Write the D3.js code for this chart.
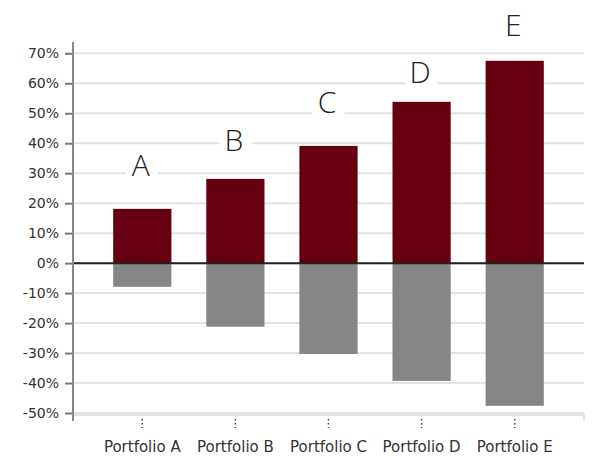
<!DOCTYPE html>
<html>
<head>
<meta charset="utf-8">
<script src="https://cdn.jsdelivr.net/npm/d3@7"></script>
<style>
  body { margin: 0; background: #fff; }
  .tick text { font-family: "DejaVu Sans", sans-serif; font-size: 14px; fill: #333; }
  .x.axis .tick text { font-size: 15px; }
</style>
</head>
<body>
<script>
const portfolios = ["Portfolio A", "Portfolio B", "Portfolio C", "Portfolio D", "Portfolio E"];
const letters = ["A", "B", "C", "D", "E"];
const upside = [18.1, 28.1, 39.1, 53.8, 67.5];
const downside = [-7.9, -21.2, -30.3, -39.3, -47.6];
// letter annotations sit at these levels (in %)
const letterLevel = [29.1, 37.5, 50.2, 60.2, 75.8];
const yTicks = [70, 60, 50, 40, 30, 20, 10, 0, -10, -20, -30, -40, -50];

const width = 592, height = 456;
const plotLeft = 73, plotRight = 584;

var svg = d3.select("body").append("svg")
    .attr("width", width)
    .attr("height", height);

var y = d3.scaleLinear()
    .domain([-50, 70])
    .range([413, 53.3]);

var x = d3.scaleBand()
    .domain(portfolios)
    .range([95.5, 561.5])
    .paddingInner(0.375)
    .paddingOuter(0.19);

// grid
svg.append("g")
    .selectAll("line")
    .data(yTicks)
    .enter()
    .append("line")
    .attr("x1", plotLeft)
    .attr("x2", plotRight)
    .attr("y1", d => y(d))
    .attr("y2", d => y(d))
    .attr("stroke", "#e2e2e2")
    .attr("stroke-width", 2);

// x axis base line
svg.append("line")
    .attr("x1", plotLeft).attr("x2", plotRight)
    .attr("y1", 415).attr("y2", 415)
    .attr("stroke", "#dcdcdc").attr("stroke-width", 1.5);
svg.append("line")
    .attr("x1", plotRight).attr("x2", plotRight)
    .attr("y1", 414).attr("y2", 420)
    .attr("stroke", "#ccc").attr("stroke-width", 1);

// bars
var groups = svg.selectAll(".port")
    .data(portfolios)
    .enter()
    .append("g")
    .attr("class", "port");

groups.append("rect")
    .attr("x", d => x(d))
    .attr("width", x.bandwidth())
    .attr("y", (d, i) => y(upside[i]))
    .attr("height", (d, i) => y(0) - y(upside[i]))
    .attr("fill", "#660010");

groups.append("rect")
    .attr("x", d => x(d))
    .attr("width", x.bandwidth())
    .attr("y", y(0))
    .attr("height", (d, i) => y(downside[i]) - y(0))
    .attr("fill", "#858585");

// letters with white boxes
groups.append("rect")
    .attr("x", d => x(d) + x.bandwidth() / 2 - 16)
    .attr("y", (d, i) => y(letterLevel[i]) - 27)
    .attr("width", 32)
    .attr("height", 33)
    .attr("fill", "#fff");

groups.append("text")
    .attr("x", d => x(d) + x.bandwidth() / 2 - 1.5)
    .attr("y", (d, i) => y(letterLevel[i]))
    .attr("text-anchor", "middle")
    .style("font-family", "'Open Sans', sans-serif")
    .style("font-weight", 300)
    .style("font-size", "30px")
    .attr("fill", "#222")
    .text((d, i) => letters[i]);

// zero line
svg.append("line")
    .attr("x1", plotLeft).attr("x2", plotRight)
    .attr("y1", y(0)).attr("y2", y(0))
    .attr("stroke", "#222").attr("stroke-width", 2);

// y axis
var yAxis = d3.axisLeft(y)
    .tickValues(yTicks)
    .tickSize(8)
    .tickPadding(6)
    .tickFormat(d => d + "%");

var yg = svg.append("g")
    .attr("class", "y axis")
    .attr("transform", "translate(" + plotLeft + ",0)")
    .call(yAxis);
yg.select(".domain").remove();
yg.selectAll(".tick line").attr("stroke", "#777").attr("stroke-width", 2);
svg.append("line")
    .attr("x1", plotLeft).attr("x2", plotLeft)
    .attr("y1", 42).attr("y2", 421)
    .attr("stroke", "#888").attr("stroke-width", 2);

// x axis
var xAxis = d3.axisBottom(x)
    .tickSize(0)
    .tickPadding(23);

var xg = svg.append("g")
    .attr("class", "x axis")
    .attr("transform", "translate(0,418)")
    .call(xAxis);
xg.select(".domain").remove();
xg.selectAll(".tick").append("line")
    .attr("y1", 1).attr("y2", 10)
    .attr("stroke", "#444")
    .attr("stroke-width", 1.5)
    .attr("stroke-dasharray", "1.5,2.5");
</script>
</body>
</html>
